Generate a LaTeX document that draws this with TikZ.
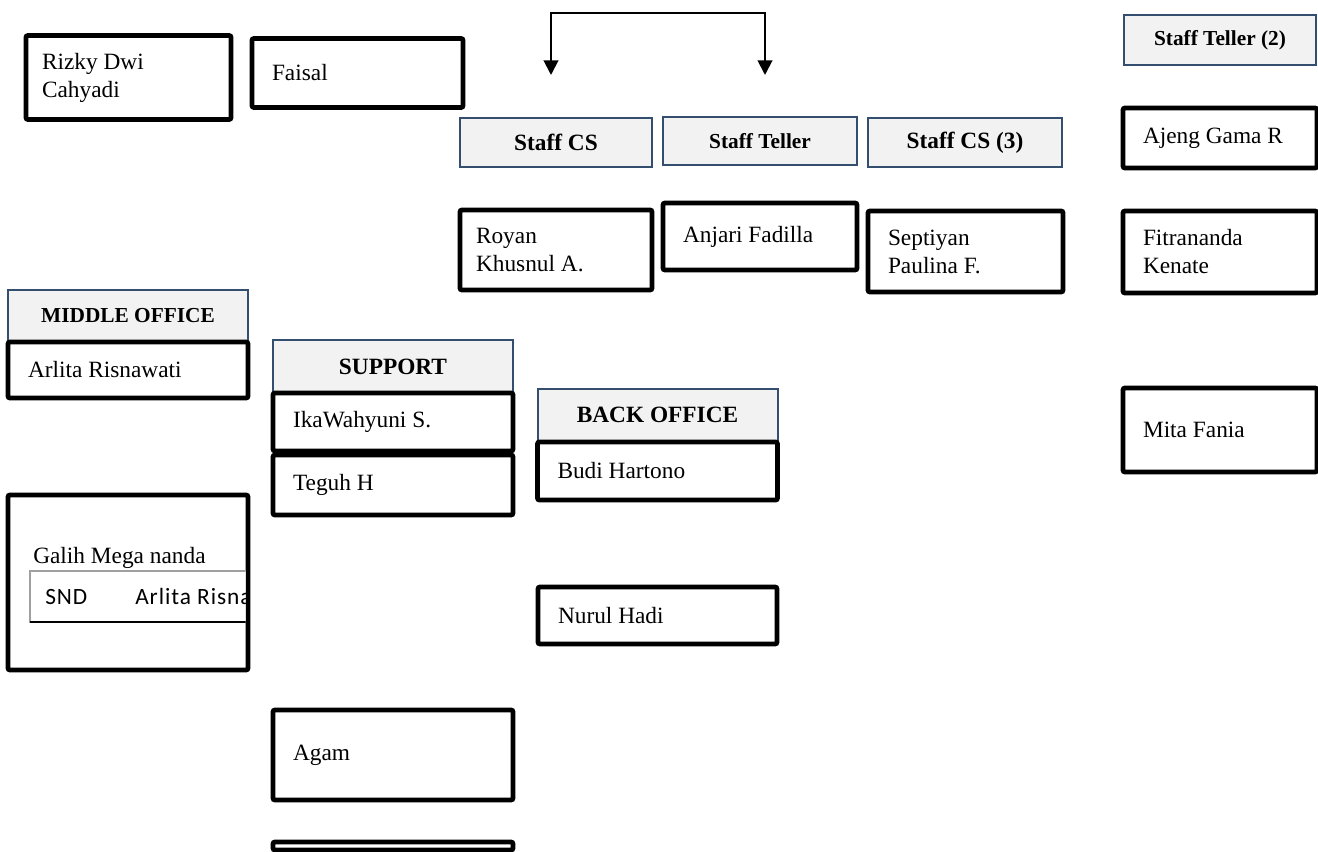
\documentclass[tikz,border=0pt]{standalone}
\usepackage{fontspec}
\setmainfont{Liberation Serif}
\newfontfamily\sndfont[LetterSpace=4]{Carlito}
\usetikzlibrary{arrows.meta}
\usetikzlibrary{positioning}

\definecolor{hdrfill}{RGB}{242,242,242}
\definecolor{hdrline}{RGB}{52,78,112}
\definecolor{sndline}{RGB}{160,160,160}

\tikzset{
  namebox/.style 2 args={draw,line width=3.6pt,rounded corners=1.5pt,fill=white,
    minimum width=#1*0.75pt,minimum height=#2*0.75pt,
    inner xsep=15pt,text width=#1*0.75pt-30pt,align=flush left,
    font=\fontsize{17.5}{21}\selectfont},
  headbox/.style 2 args={draw=hdrline,line width=1.5pt,fill=hdrfill,
    minimum width=#1*0.75pt,minimum height=#2*0.75pt,
    font=\fontsize{17.5}{20}\selectfont\bfseries},
  headsmall/.style={font=\fontsize{16}{19}\selectfont\bfseries},
  toparrow/.style={line width=1.5pt,{Triangle[length=11pt,width=11pt]}-{Triangle[length=11pt,width=11pt]}}
}

\begin{document}
\begin{tikzpicture}[x=0.75pt,y=-0.75pt]
\useasboundingbox (0,0) rectangle (1318,852);

% headers
\node[headbox={192}{49}] (hcs) at (556,142.5) {Staff CS};
\node[headbox={194}{48},headsmall] (hteller) at (760,141) {Staff Teller};
\node[headbox={194}{49}] (hcsthree) at (965,142.5) {Staff CS (3)};
\node[headbox={192}{50},headsmall] (htellertwo) at (1220,40) {Staff Teller (2)};
\node[headbox={240}{51},headsmall] (hmiddle) at (128,315.5) {MIDDLE OFFICE};
\node[headbox={240}{53}] (hsupport) at (393,366.5) {SUPPORT};
\node[headbox={240}{52}] (hback) at (657.5,415) {BACK OFFICE};

% names
\node[namebox={205}{84},inner xsep=12pt,text width=129.75pt] (rizky) at (128.5,77.5) {Rizky Dwi\\Cahyadi};
\node[namebox={211}{69}] (faisal) at (357.5,73) {Faisal};
\node[namebox={192}{80},inner xsep=12pt,text width=120pt] (royan) at (556,250) {Royan\\Khusnul A.};
\node[namebox={194}{67}] (anjari) at (760,236.5) {Anjari Fadilla};
\node[namebox={195}{81}] (septiyan) at (965.5,251.5) {Septiyan\\Paulina F.};
\node[namebox={194}{60}] (ajeng) at (1220,138) {Ajeng Gama R};
\node[namebox={194}{82}] (fitra) at (1220,252) {Fitrananda\\Kenate};
\node[namebox={194}{84}] (mita) at (1220,430) {Mita Fania};
\node[namebox={240}{56}] (arlita) at (128,370) {Arlita Risnawati};
\node[namebox={240}{58}] (ika) at (393,422) {IkaWahyuni S.};
\node[namebox={240}{60}] (teguh) at (393,485) {Teguh H};
\node[namebox={240}{58}] (budi) at (657.5,471) {Budi Hartono};
\node[namebox={239}{57}] (nurul) at (657.5,615.5) {Nurul Hadi};
\node[namebox={240}{90}] (agam) at (393,755) {Agam};
\node[namebox={240}{8},inner ysep=0pt] (lastbox) at (393,846) {};

\node[namebox={240}{175}] (galih) at (128,582.5) {};
\node[anchor=base west,inner sep=0pt,font=\fontsize{17.5}{21}\selectfont] (galihname) at (33,563) {Galih Mega nanda};
\begin{scope}
\clip (28,565) rectangle (245.5,630);
\draw[sndline,line width=0.8pt,fill=white] (30,571) rectangle (270,622);
\draw[line width=1.2pt] (30,622) -- (270,622);
\node[anchor=base west,inner sep=0pt,font=\sndfont\fontsize{17.5}{20}\selectfont] (snd) at (45,604) {SND};
\node[anchor=base west,inner sep=0pt,font=\sndfont\fontsize{17.5}{20}\selectfont] (sndname) at (135,604) {Arlita Risnawati};
\end{scope}

% arrows on top
\coordinate (topleft) at (551,13);
\coordinate (topright) at (765,13);
\coordinate (csend) at (551,75);
\coordinate (tellerend) at (765,75);
\draw[toparrow] (csend) -- (topleft) -- (topright) -- (tellerend);

\end{tikzpicture}
\end{document}
